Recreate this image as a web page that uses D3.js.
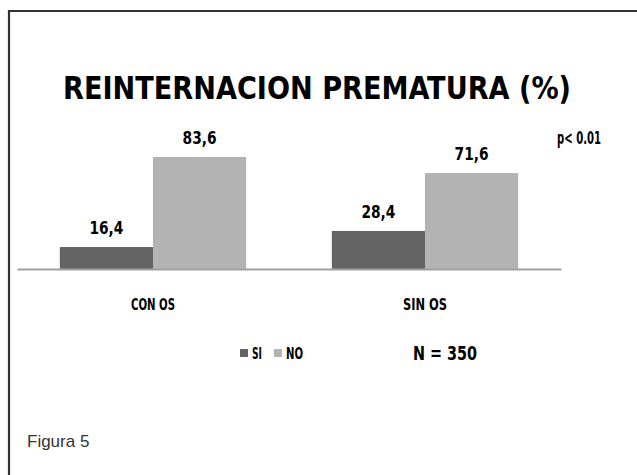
<!DOCTYPE html>
<html>
<head>
<meta charset="utf-8">
<script src="https://cdn.jsdelivr.net/npm/d3@7"></script>
<style>
  body { margin: 0; background: #fff; }
  .bold { font-family: "Liberation Sans Narrow", "DejaVu Sans Condensed", "Liberation Sans", sans-serif; font-weight: bold; fill: #000; }
</style>
</head>
<body>
<div id="chart"></div>
<script>
// data
var categories = ["CON OS", "SIN OS"];
var seriesNames = ["SI", "NO"];
var siValues = [16.4, 28.4];
var noValues = [83.6, 71.6];

var colors = {SI: "#646464", NO: "#b3b3b3"};

var width = 637, height = 475;
var baseY = 269;

var svg = d3.select("#chart").append("svg")
    .attr("width", width)
    .attr("height", height);

svg.append("rect").attr("width", width).attr("height", height).attr("fill", "#fff");

// frame (runs off the right/bottom edge)
svg.append("path")
    .attr("d", "M9,480 L9,11 L650,11")
    .attr("fill", "none")
    .attr("stroke", "#333")
    .attr("stroke-width", 2.2);

// title
svg.append("text")
    .attr("class", "bold")
    .attr("x", 63).attr("y", 99)
    .attr("textLength", 508)
    .attr("lengthAdjust", "spacingAndGlyphs")
    .style("font-size", "32px")
    .text("REINTERNACION PREMATURA (%)");

// scales
var x0 = d3.scaleBand()
    .domain(categories)
    .range([17, 561])
    .paddingInner(0).paddingOuter(0);

var x1 = d3.scaleBand()
    .domain(seriesNames)
    .range([0, x0.bandwidth()])
    .paddingInner(0).paddingOuter(0.46);

var y = d3.scaleLinear()
    .domain([0, 100])
    .range([baseY, baseY - 134]);

var rows = categories.map(function(c, i) {
  return {cat: c, vals: [{key: "SI", v: siValues[i]}, {key: "NO", v: noValues[i]}]};
});

var g = svg.append("g").selectAll("g")
    .data(rows).enter().append("g")
    .attr("transform", function(d) { return "translate(" + x0(d.cat) + ",0)"; });

g.selectAll("rect")
    .data(function(d) { return d.vals; })
    .enter().append("rect")
    .attr("x", function(d) { return x1(d.key); })
    .attr("width", x1.bandwidth())
    .attr("y", function(d) { return y(d.v); })
    .attr("height", function(d) { return y(0) - y(d.v); })
    .attr("fill", function(d) { return colors[d.key]; });

g.selectAll("text.val")
    .data(function(d) { return d.vals; })
    .enter().append("text")
    .attr("class", "bold val")
    .attr("x", function(d) { return x1(d.key) + x1.bandwidth() / 2; })
    .attr("y", function(d) { return y(d.v) - 13; })
    .attr("text-anchor", "middle")
    .attr("textLength", 34)
    .attr("lengthAdjust", "spacingAndGlyphs")
    .style("font-size", "18px")
    .text(function(d) { return d3.format(".1f")(d.v).replace(".", ","); });

// x axis
var xAxis = svg.append("g")
    .attr("transform", "translate(0," + baseY + ")")
    .call(d3.axisBottom(x0).tickSize(0).tickPadding(30));
xAxis.select(".domain").attr("stroke", "#a0a0a0").attr("stroke-width", 2);
xAxis.selectAll("text")
    .attr("class", "bold")
    .attr("textLength", 44)
    .attr("lengthAdjust", "spacingAndGlyphs")
    .style("font-size", "15px");

// p value
svg.append("text").attr("class", "bold")
    .attr("x", 557).attr("y", 144)
    .attr("textLength", 44)
    .attr("lengthAdjust", "spacingAndGlyphs")
    .style("font-size", "18px")
    .text("p< 0.01");

// legend
var leg = svg.append("g").attr("transform", "translate(240,349)");
var lx = [0, 34];
var lw = [10, 17];
seriesNames.forEach(function(s, i) {
  leg.append("rect").attr("x", lx[i]).attr("y", 0).attr("width", 8).attr("height", 8).attr("fill", colors[s]);
  leg.append("text").attr("class", "bold")
      .attr("x", lx[i] + 12).attr("y", 10)
      .attr("textLength", lw[i])
      .attr("lengthAdjust", "spacingAndGlyphs")
      .style("font-size", "15px")
      .text(s);
});

svg.append("text").attr("class", "bold")
    .attr("x", 413).attr("y", 360)
    .attr("textLength", 64)
    .attr("lengthAdjust", "spacingAndGlyphs")
    .style("font-size", "19px")
    .text("N = 350");

// caption
svg.append("text")
    .attr("x", 27).attr("y", 447)
    .style("font-family", "'Liberation Sans', Arial, sans-serif")
    .style("font-size", "17px")
    .attr("fill", "#333")
    .text("Figura 5");
</script>
</body>
</html>
